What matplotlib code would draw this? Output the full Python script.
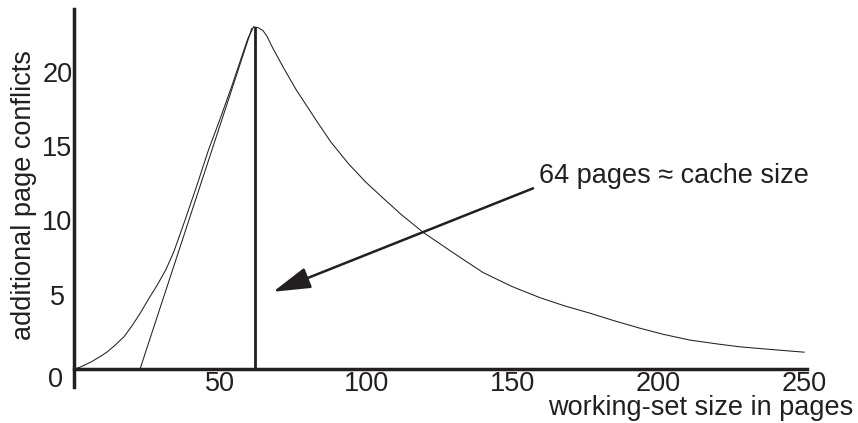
import matplotlib
matplotlib.use('Agg')
import matplotlib.pyplot as plt

# data
rise_x = [0, 2.3, 6, 9, 11.4, 14, 17.1, 20, 22.8, 25.5, 28.5, 31.5, 34.2, 38, 42,
          46, 50, 54, 57, 59.5, 61.5]
rise_y = [0, 0.15, 0.5, 0.85, 1.16, 1.6, 2.17, 2.95, 3.8, 4.7, 5.65, 6.7, 7.9, 10.0, 12.3,
          14.7, 16.8, 19.0, 20.75, 22.2, 23.0]
fall_x = [61.5, 63, 64.7, 66, 68, 71.6, 76, 83, 88, 94, 100, 105.8, 112, 119.5,
          130, 140, 150, 159.6, 168, 176.7, 185, 193.8, 202, 211, 220, 228, 240, 250]
fall_y = [23.0, 22.95, 22.75, 22.4, 21.6, 20.3, 18.8, 16.7, 15.25, 13.8, 12.55, 11.5, 10.4, 9.2,
          7.8, 6.5, 5.55, 4.8, 4.25, 3.76, 3.25, 2.75, 2.33, 1.95, 1.7, 1.5, 1.3, 1.14]
tangent_x = [22.6, 60.9]
tangent_y = [0, 22.9]
cache_x = 62.0
cache_top = 22.9
x_ticks = [50, 100, 150, 200, 250]
y_ticks = [5, 10, 15, 20]
note = '64 pages \u2248 cache size'

ink = '#231f20'
plt.rcParams['font.family'] = ['Liberation Sans', 'DejaVu Sans']
plt.rcParams['font.size'] = 19.5

fig = plt.figure(figsize=(8.58, 4.23), dpi=100)
ax = fig.add_axes([74 / 858, 36 / 423, 733 / 858, 378 / 423])

ax.plot(rise_x, rise_y, color=ink, lw=0.75)
ax.plot(fall_x, fall_y, color=ink, lw=0.75)
ax.plot(tangent_x, tangent_y, color=ink, lw=0.75)
ax.plot([cache_x, cache_x], [0, cache_top], color=ink, lw=2.0)

ax.annotate('', xy=(68.2, 5.2), xytext=(157.2, 12.15),
            arrowprops=dict(arrowstyle='-|>,head_length=1.15,head_width=0.33',
                            color=ink, lw=1.8, shrinkA=0, shrinkB=0,
                            mutation_scale=20))
ax.text(159.2, 12.5, note, color=ink, ha='left', va='baseline')

ax.set_xlim(0, 251)
ax.set_ylim(-1.2, 24.2)

for s in ['top', 'right']:
    ax.spines[s].set_visible(False)
ax.spines['bottom'].set_position(('data', 0))
ax.spines['bottom'].set_linewidth(2.5)
ax.spines['left'].set_linewidth(2.5)
ax.spines['bottom'].set_color(ink)
ax.spines['left'].set_color(ink)

ax.set_xticks(x_ticks)
ax.set_yticks(y_ticks)
ax.tick_params(axis='x', length=0, pad=1, colors=ink)
ax.tick_params(axis='y', length=0, pad=12, colors=ink)
for lab in ax.get_yticklabels():
    lab.set_horizontalalignment('center')

ax.text(-6.3, -0.75, '0', ha='center', va='center', color=ink)

ax.set_xlabel('working-set size in pages', ha='right', va='baseline', color=ink)
ax.xaxis.set_label_coords(1.063, -0.074)
ax.set_ylabel('additional page conflicts', va='center', color=ink)
ax.yaxis.set_label_coords(-0.068, 0.508)

fig.savefig('out.png', dpi=100)
